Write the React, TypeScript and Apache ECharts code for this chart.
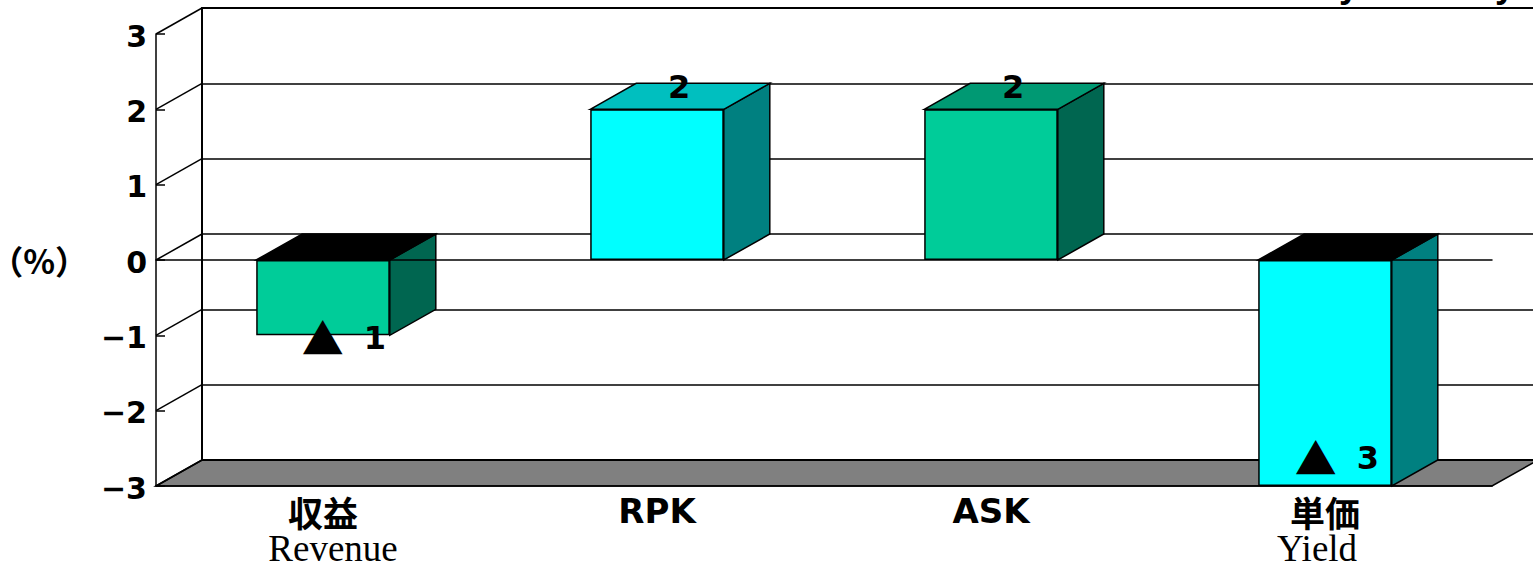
import React, { useEffect, useRef } from "react";
import * as echarts from "echarts";

const categories = ["収益", "RPK", "ASK", "単価"];
const englishNames = ["Revenue", "", "", "Yield"];
const values = [-1, 2, 2, -3];
const labelMarks = ["▲", "", "", "▲"];
const labelDigits = ["1", "2", "2", "3"];
const yTicks = [-3, -2, -1, 0, 1, 2, 3];
const frontColors = ["#00CC99", "#00FFFF", "#00CC99", "#00FFFF"];
const sideColors = ["#006650", "#008080", "#006650", "#008080"];
const topColors = ["#000000", "#00BFBF", "#009973", "#000000"];

const labelOffsets = [[21, 3], [22, -22], [22, -22], [12, -28]];
const DEPTH_X = 46;
const DEPTH_Y = -26;
const BAR_RATIO = 0.4;
const SANS = '"DejaVu Sans", "Noto Sans CJK JP", sans-serif';

export default function App() {
  const ref = useRef<HTMLDivElement>(null);
  useEffect(() => {
    document.body.style.margin = "0";
    const chart = echarts.init(ref.current!, null, { renderer: "svg" });
    const line = { color: "#000", width: 1.5 };
    chart.setOption({
      animation: false,
      backgroundColor: "#fff",
      graphic: [
        { type: "text", x: 1339, y: -34, z: 20, style: { text: "y", font: 'bold 36px "Liberation Sans"', fill: "#000" } },
        { type: "text", x: 1495, y: -34, z: 20, style: { text: "y", font: 'bold 36px "Liberation Sans"', fill: "#000" } },
      ],
      grid: [
        { left: 156, right: 41, top: 34, bottom: 77, outerBoundsMode: "none" },
        { left: 202, right: -6, top: 8, bottom: 103, outerBoundsMode: "none" },
      ],
      xAxis: [
        {
          gridIndex: 0, type: "category", data: categories, position: "bottom", z: 6,
          axisLine: { onZero: false, lineStyle: line },
          axisTick: { inside: true, length: 9, lineStyle: line },
          axisLabel: {
            margin: 6,
            interval: 0,
            verticalAlign: "top",
            formatter: (_: string, i: number) =>
              englishNames[i]
                ? `{jp|${categories[i]}}\n{${englishNames[i] === "Yield" ? "enY" : "enR"}|${englishNames[i]}}`
                : `{lat|${categories[i]}}`,
            rich: {
              jp: { fontFamily: '"Noto Sans CJK JP"', fontWeight: "bold", fontSize: 35, lineHeight: 38, color: "#000" },
              lat: { fontFamily: SANS, fontWeight: "bold", fontSize: 34, lineHeight: 38, color: "#000" },
              enR: { fontFamily: '"Liberation Serif"', fontSize: 37, lineHeight: 36, color: "#000", padding: [0, 0, 0, 20] },
              enY: { fontFamily: '"Liberation Serif"', fontSize: 37, lineHeight: 36, color: "#000", padding: [0, 16, 0, 0] },
            },
          },
        },
        {
          gridIndex: 0, type: "category", data: categories, position: "top", z: 6,
          axisLine: { onZero: true, lineStyle: line },
          axisTick: { inside: false, length: 9, lineStyle: line },
          axisLabel: { show: false },
        },
        {
          gridIndex: 1, type: "category", data: categories, position: "bottom", z: 2,
          axisLine: { onZero: false, lineStyle: { color: "#000", width: 2 } },
          axisTick: { show: false }, axisLabel: { show: false },
        },
        {
          gridIndex: 1, type: "category", data: categories, position: "top", z: 2,
          axisLine: { onZero: false, lineStyle: { color: "#000", width: 2 } },
          axisTick: { show: false }, axisLabel: { show: false },
        },
      ],
      yAxis: [
        {
          gridIndex: 0, type: "value", min: -3, max: 3, interval: 1, z: 6,
          name: "（%）",
          nameLocation: "middle",
          nameRotate: 0,
          nameGap: 68,
          nameTextStyle: { fontFamily: '"Noto Sans CJK JP"', fontWeight: "bold", fontSize: 33, color: "#000" },
          axisLine: { show: true, lineStyle: line },
          axisTick: { show: true, inside: true, length: 9, lineStyle: line },
          splitLine: { show: false },
          axisLabel: {
            margin: 9,
            color: "#000",
            fontFamily: SANS,
            fontWeight: "bold",
            fontSize: 30,
            verticalAlign: "top",
            lineHeight: 4,
            formatter: (v: number) => String(v).replace("-", "−"),
          },
        },
        {
          gridIndex: 1, type: "value", min: -3, max: 3, interval: 1, z: 2,
          axisLine: { show: true, lineStyle: { color: "#000", width: 2 } },
          axisTick: { show: false },
          axisLabel: { show: false },
          splitLine: { show: true, lineStyle: line },
        },
      ],
      series: [
        {
          // floor of the 3D plot
          type: "custom", xAxisIndex: 0, yAxisIndex: 0, z: 1, silent: true,
          data: [[0, -3]],
          renderItem: (params: any) => {
            const c = params.coordSys;
            const y = c.y + c.height;
            return {
              type: "polygon",
              shape: { points: [[c.x, y], [c.x + DEPTH_X, y + DEPTH_Y], [c.x + c.width + DEPTH_X, y + DEPTH_Y], [c.x + c.width, y]] },
              style: { fill: "#808080", stroke: "#000", lineWidth: 1.5 },
            };
          },
        },
        {
          // left wall: depth lines from each front tick to the back wall
          type: "custom", xAxisIndex: 0, yAxisIndex: 0, z: 3, silent: true,
          data: yTicks.map((v) => [0, v]),
          renderItem: (params: any, api: any) => {
            const x = params.coordSys.x;
            const y = api.coord([0, api.value(1)])[1];
            return {
              type: "line",
              shape: { x1: x, y1: y, x2: x + DEPTH_X, y2: y + DEPTH_Y },
              style: { stroke: "#000", lineWidth: 1.5 },
            };
          },
        },
        {
          // side and top faces of every bar
          type: "custom", xAxisIndex: 0, yAxisIndex: 0, z: 4, silent: true,
          data: values.map((v, i) => [i, v]),
          renderItem: (_: any, api: any) => {
            const i = api.value(0);
            const v = api.value(1);
            const w = api.size([1, 0])[0] * BAR_RATIO;
            const [cx, yv] = api.coord([i, v]);
            const y0 = api.coord([i, 0])[1];
            const left = cx - w / 2;
            const right = cx + w / 2;
            const top = Math.min(yv, y0);
            const bottom = Math.max(yv, y0);
            return {
              type: "group",
              children: [
                {
                  type: "polygon",
                  shape: { points: [[right, top], [right + DEPTH_X, top + DEPTH_Y], [right + DEPTH_X, bottom + DEPTH_Y], [right, bottom]] },
                  style: { fill: sideColors[i], stroke: "#000", lineWidth: 1.5 },
                },
                {
                  type: "polygon",
                  shape: { points: [[left, top], [left + DEPTH_X, top + DEPTH_Y], [right + DEPTH_X, top + DEPTH_Y], [right, top]] },
                  style: { fill: topColors[i], stroke: "#000", lineWidth: 1.5 },
                },
              ],
            };
          },
        },
        {
          type: "bar", xAxisIndex: 0, yAxisIndex: 0, z: 7, silent: true,
          barWidth: `${BAR_RATIO * 100}%`,
          data: values.map((v, i) => ({
            value: v,
            itemStyle: { color: frontColors[i], borderColor: "#000", borderWidth: 1.5 },
          })),
        },
        {
          // data labels
          type: "custom", xAxisIndex: 0, yAxisIndex: 0, z: 8, silent: true,
          data: values.map((v, i) => [i, v]),
          renderItem: (_: any, api: any) => {
            const i = api.value(0);
            const [x, y] = api.coord([i, api.value(1)]);
            return {
              type: "text",
              x: x + labelOffsets[i][0],
              y: y + labelOffsets[i][1],
              style: {
                text: labelMarks[i] ? `{m|${labelMarks[i]}}{d|${labelDigits[i]}}` : `{d|${labelDigits[i]}}`,
                align: "center",
                verticalAlign: "middle",
                rich: {
                  m: { fontFamily: '"Noto Sans CJK JP"', fontSize: 42, color: "#000", padding: [0, 20, 4, 0] },
                  d: { fontFamily: SANS, fontWeight: "bold", fontSize: 32, color: "#000" },
                },
              },
            };
          },
        },
      ],
    });
    return () => chart.dispose();
  }, []);
  return <div ref={ref} style={{ width: 1533, height: 563, position: "fixed", left: 0, top: 0 }} />;
}
